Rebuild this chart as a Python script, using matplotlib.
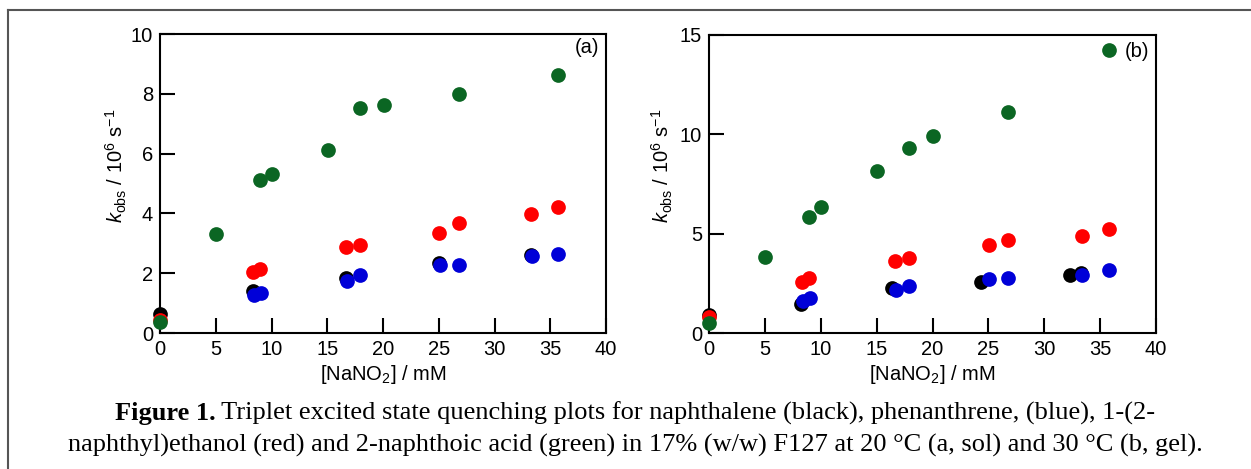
import matplotlib
matplotlib.use("Agg")
import matplotlib.pyplot as plt
from matplotlib.lines import Line2D

plt.rcParams['font.family'] = ['Liberation Sans', 'DejaVu Sans']
plt.rcParams['mathtext.fontset'] = 'custom'
plt.rcParams['mathtext.rm'] = 'Liberation Sans'
plt.rcParams['mathtext.it'] = 'Liberation Sans:italic'
plt.rcParams['mathtext.bf'] = 'Liberation Sans:bold'

# ---------------- data ----------------
# panel (a) 20 C, sol
xa_black = [0, 8.33, 16.7, 25.0, 33.3]
ya_black = [0.65, 1.39, 1.84, 2.33, 2.62]
xa_blue = [8.4, 9.1, 16.8, 17.9, 25.1, 26.8, 33.4, 35.7]
ya_blue = [1.28, 1.34, 1.74, 1.93, 2.26, 2.28, 2.59, 2.65]
xa_red = [0, 8.33, 9.0, 16.7, 17.9, 25.0, 26.8, 33.3, 35.7]
ya_red = [0.42, 2.04, 2.13, 2.86, 2.93, 3.35, 3.69, 3.99, 4.23]
xa_green = [0, 5.03, 8.99, 10.04, 15.07, 17.92, 20.07, 26.8, 35.7]
ya_green = [0.38, 3.31, 5.11, 5.32, 6.11, 7.53, 7.64, 8.0, 8.63]

# panel (b) 30 C, gel
xb_black = [0, 8.23, 16.4, 24.3, 32.3, 33.3]
yb_black = [0.89, 1.48, 2.27, 2.57, 2.91, 3.02]
xb_blue = [8.44, 9.04, 16.73, 17.93, 25.09, 26.8, 33.4, 35.8]
yb_blue = [1.63, 1.76, 2.17, 2.37, 2.72, 2.77, 2.94, 3.19]
xb_red = [0, 8.29, 8.95, 16.67, 17.93, 25.03, 26.8, 33.4, 35.8]
yb_red = [0.79, 2.59, 2.79, 3.6, 3.76, 4.42, 4.69, 4.87, 5.24]
xb_green = [0, 5.01, 8.95, 10.02, 15.06, 17.93, 20.07, 26.8, 35.8]
yb_green = [0.5, 3.83, 5.85, 6.32, 8.13, 9.32, 9.94, 11.1, 14.26]

x_ticks = [0, 5, 10, 15, 20, 25, 30, 35, 40]
ya_ticks = [0, 2, 4, 6, 8, 10]
yb_ticks = [0, 5, 10, 15]

c_black = '#000000'
c_blue = '#0000d8'
c_red = '#ff0000'
c_green = '#0b6623'

W, H = 1251, 469
fig = plt.figure(figsize=(W / 100, H / 100), dpi=100)

ax_a = fig.add_axes([160 / W, 1 - 333 / H, 446 / W, 299 / H])
ax_b = fig.add_axes([709 / W, 1 - 333 / H, 447 / W, 298 / H])

ms = 112
fsz = 14.5
for ax, series, yt, ylim, tag, tagpos in [
    (ax_a, [(xa_black, ya_black, c_black), (xa_blue, ya_blue, c_blue),
            (xa_red, ya_red, c_red), (xa_green, ya_green, c_green)],
     ya_ticks, (0, 10), '(a)', (0.985, 0.955)),
    (ax_b, [(xb_black, yb_black, c_black), (xb_blue, yb_blue, c_blue),
            (xb_red, yb_red, c_red), (xb_green, yb_green, c_green)],
     yb_ticks, (0, 15), '(b)', (0.985, 0.945)),
]:
    for xs, ys, c in series:
        ax.scatter(xs, ys, s=ms, color=c, linewidths=0, clip_on=False, zorder=3)
    ax.set_xlim(0, 40)
    ax.set_ylim(*ylim)
    ax.set_xticks(x_ticks)
    ax.set_yticks(yt)
    for sp in ax.spines.values():
        sp.set_linewidth(1.5)
    ax.tick_params(direction='in', length=11, width=1.5, labelsize=fsz,
                   top=False, right=False, pad=5)
    ax.set_xlabel(r'[NaNO$_2$] / mM', fontsize=fsz, labelpad=3)
    ax.set_ylabel(r'$k_{\rm obs}$ / 10$^6$ s$^{-1}$', fontsize=fsz)
    ax.text(tagpos[0], tagpos[1], tag, transform=ax.transAxes, ha='right',
            va='center', fontsize=fsz)

ax_a.yaxis.set_label_coords(-0.07, 0.56)
ax_b.yaxis.set_label_coords(-0.075, 0.56)

# figure frame lines (top and left)
fig.add_artist(Line2D([8 / W, 1.0], [1 - 10 / H, 1 - 10 / H], transform=fig.transFigure,
                      color='#555555', lw=1.5))
fig.add_artist(Line2D([8 / W, 8 / W], [1 - 10 / H, 0.0], transform=fig.transFigure,
                      color='#555555', lw=1.5))

# caption
cap_font = ['Liberation Serif', 'DejaVu Serif']
fs = 19
bold_part = 'Figure 1.'
rest1 = ' Triplet excited state quenching plots for naphthalene (black), phenanthrene, (blue), 1-(2-'
line2 = 'naphthyl)ethanol (red) and 2-naphthoic acid (green) in 17% (w/w) F127 at 20 \u00b0C (a, sol) and 30 \u00b0C (b, gel).'

renderer = fig.canvas.get_renderer()
y1 = 1 - 413 / H
tb = fig.text(0, y1, bold_part, fontsize=fs, fontweight='bold', family=cap_font, va='center')
tr = fig.text(0, y1, rest1, fontsize=fs, family=cap_font, va='center')
wb = tb.get_window_extent(renderer).width
wr = tr.get_window_extent(renderer).width
total = wb + wr
x0 = 635 - total / 2
tb.set_x(x0 / W)
tr.set_x((x0 + wb) / W)
fig.text(635 / W, 1 - 445 / H, line2, fontsize=fs, family=cap_font, va='center', ha='center')

fig.savefig('out.png', dpi=100)
